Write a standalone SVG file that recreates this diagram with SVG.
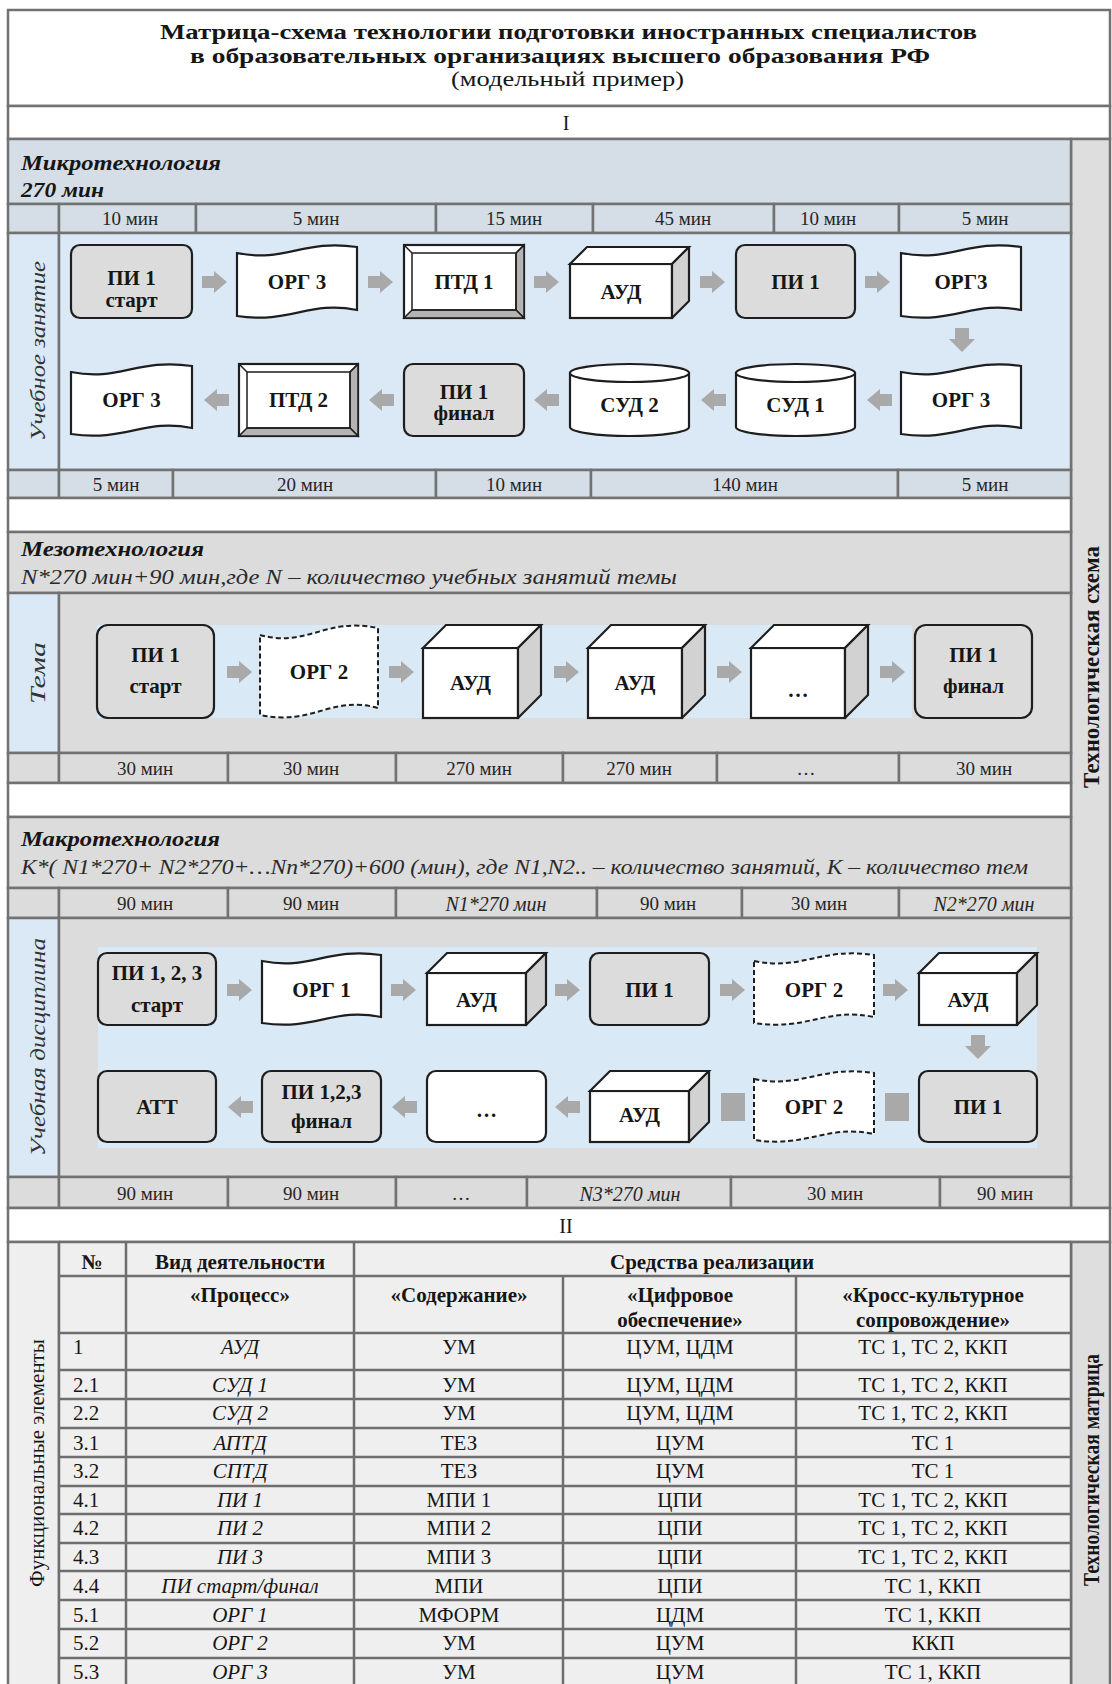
<svg xmlns="http://www.w3.org/2000/svg" xmlns:xlink="http://www.w3.org/1999/xlink" width="1112" height="1684" viewBox="0 0 1112 1684">
<style>
text{font-family:"Liberation Serif","Times New Roman",serif;fill:#161616}
.c{stroke:#727272;stroke-width:2.5}
.w{fill:#ffffff}.mb{fill:#d5dee7}.bl{fill:#dae9f5}.gr{fill:#dcdcdc}.rc{fill:#dedede}.tb{fill:#efefef}
.band{fill:#d9e9f6}
.gn{fill:#dcdcdc;stroke:#1e1e1e;stroke-width:2.2}
.wn{fill:#ffffff;stroke:#1e1e1e;stroke-width:2.2}
.dn{fill:#ffffff;stroke:#1e1e1e;stroke-width:2;stroke-dasharray:5 3}
.side{fill:#d2d2d2;stroke:#1e1e1e;stroke-width:2.2;stroke-linejoin:round}
.bev{fill:#b4b4b4;stroke:#1e1e1e;stroke-width:1.5}
.ln{fill:none;stroke:#1e1e1e;stroke-width:1.5}
.arr{fill:#a9a9a9}
.nt{font-size:21px;font-weight:bold;text-anchor:middle}
.d{font-size:19px;text-anchor:middle;fill:#262626}
.di{font-size:20px;font-style:italic;text-anchor:middle;fill:#262626}
.hd{font-size:20px;font-weight:bold;font-style:italic}
.fm{font-size:20px;font-style:italic;fill:#2a2a2a}
.vl{font-size:22px;font-style:italic;text-anchor:middle;dominant-baseline:central;fill:#333}
.vb{font-size:20px;font-weight:bold;text-anchor:middle;dominant-baseline:central}
.th{font-size:21px;font-weight:bold;text-anchor:middle}
.tc{font-size:21px;text-anchor:middle}
.ti{font-size:21px;font-style:italic;text-anchor:middle}
.tn{font-size:21px}
.grid{fill:none;stroke:#6e6e6e;stroke-width:2.5}
</style>
<defs>
<path id="ar" d="M0,-6 H12 V-11 L25,0 L12,11 V6 H0 Z"/>
<path id="ad" d="M-7,0 H7 V11 H13 L0,24 L-13,11 H-7 Z"/>
</defs>

<g id="frame">
<rect class="c w" x="8" y="10" width="1102" height="96"/>
<rect class="c w" x="8" y="106" width="1102" height="33"/>
<rect class="c rc" x="1071" y="139" width="39" height="1069"/>
<rect class="c mb" x="8" y="139" width="1063" height="65"/>
<rect class="c mb" x="8" y="204" width="51" height="29"/>
<rect class="c mb" x="59" y="204" width="137" height="29"/>
<rect class="c mb" x="196" y="204" width="240" height="29"/>
<rect class="c mb" x="436" y="204" width="157" height="29"/>
<rect class="c mb" x="593" y="204" width="181" height="29"/>
<rect class="c mb" x="774" y="204" width="125" height="29"/>
<rect class="c mb" x="899" y="204" width="172" height="29"/>
<rect class="c bl" x="8" y="233" width="51" height="237"/>
<rect class="c bl" x="59" y="233" width="1012" height="237"/>
<rect class="c mb" x="8" y="470" width="51" height="28"/>
<rect class="c mb" x="59" y="470" width="114" height="28"/>
<rect class="c mb" x="173" y="470" width="263" height="28"/>
<rect class="c mb" x="436" y="470" width="155" height="28"/>
<rect class="c mb" x="591" y="470" width="307" height="28"/>
<rect class="c mb" x="898" y="470" width="173" height="28"/>
<rect class="c w" x="8" y="498" width="1063" height="34"/>
<rect class="c gr" x="8" y="532" width="1063" height="61"/>
<rect class="c bl" x="8" y="593" width="51" height="160"/>
<rect class="c gr" x="59" y="593" width="1012" height="160"/>
<rect class="band" x="97" y="625" width="815" height="93"/>
<rect class="c gr" x="8" y="753" width="51" height="30"/>
<rect class="c gr" x="59" y="753" width="169" height="30"/>
<rect class="c gr" x="228" y="753" width="168" height="30"/>
<rect class="c gr" x="396" y="753" width="167" height="30"/>
<rect class="c gr" x="563" y="753" width="154" height="30"/>
<rect class="c gr" x="717" y="753" width="182" height="30"/>
<rect class="c gr" x="899" y="753" width="172" height="30"/>
<rect class="c w" x="8" y="783" width="1063" height="34"/>
<rect class="c gr" x="8" y="817" width="1063" height="71"/>
<rect class="c gr" x="8" y="888" width="51" height="30"/>
<rect class="c gr" x="59" y="888" width="169" height="30"/>
<rect class="c gr" x="228" y="888" width="168" height="30"/>
<rect class="c gr" x="396" y="888" width="201" height="30"/>
<rect class="c gr" x="597" y="888" width="145" height="30"/>
<rect class="c gr" x="742" y="888" width="157" height="30"/>
<rect class="c gr" x="899" y="888" width="172" height="30"/>
<rect class="c bl" x="8" y="918" width="51" height="259"/>
<rect class="c gr" x="59" y="918" width="1012" height="259"/>
<rect class="band" x="98" y="947" width="939" height="201"/>
<rect class="c gr" x="8" y="1177" width="51" height="31"/>
<rect class="c gr" x="59" y="1177" width="169" height="31"/>
<rect class="c gr" x="228" y="1177" width="168" height="31"/>
<rect class="c gr" x="396" y="1177" width="131" height="31"/>
<rect class="c gr" x="527" y="1177" width="204" height="31"/>
<rect class="c gr" x="731" y="1177" width="209" height="31"/>
<rect class="c gr" x="940" y="1177" width="131" height="31"/>
<rect class="c w" x="8" y="1208" width="1102" height="34"/>
<rect class="c tb" x="8" y="1242" width="51" height="450"/>
<rect class="c rc" x="1071" y="1242" width="39" height="450"/>
<rect class="tb" x="59" y="1242" width="1012" height="450"/>
<path class="grid" d="M59,1242H1071M59,1276H1071M59,1333H1071M59,1370H1071M59,1399H1071M59,1428H1071M59,1457H1071M59,1486H1071M59,1514H1071M59,1543H1071M59,1571H1071M59,1600H1071M59,1629H1071M59,1658H1071M59,1242V1690M126,1242V1690M354,1242V1690M563,1276V1690M796,1276V1690M1071,1242V1690"/>
</g>

<g id="labels">
<text font-size="21" font-weight="bold" x="160" y="39" textLength="817" lengthAdjust="spacingAndGlyphs">Матрица-схема технологии подготовки иностранных специалистов</text>
<text font-size="21" font-weight="bold" x="190" y="63" textLength="740" lengthAdjust="spacingAndGlyphs">в образовательных организациях высшего образования РФ</text>
<text font-size="20" x="451" y="86" textLength="233" lengthAdjust="spacingAndGlyphs">(модельный пример)</text>
<text font-size="20" x="566" y="130" text-anchor="middle">I</text>
<text class="hd" x="21" y="170" textLength="200" lengthAdjust="spacingAndGlyphs">Микротехнология</text>
<text class="hd" x="21" y="197" textLength="83" lengthAdjust="spacingAndGlyphs">270 мин</text>
<text class="hd" x="21" y="556" textLength="183" lengthAdjust="spacingAndGlyphs">Мезотехнология</text>
<text class="fm" x="21" y="584" textLength="656" lengthAdjust="spacingAndGlyphs">N*270 мин+90 мин,где N – количество учебных занятий темы</text>
<text class="hd" x="21" y="846" textLength="199" lengthAdjust="spacingAndGlyphs">Макротехнология</text>
<text class="fm" x="21" y="874" textLength="1007" lengthAdjust="spacingAndGlyphs">K*( N1*270+ N2*270+…Nn*270)+600 (мин), где N1,N2.. – количество занятий, K – количество тем</text>
<text class="vl" transform="translate(37,351) rotate(-90)" textLength="180" lengthAdjust="spacingAndGlyphs">Учебное занятие</text>
<text class="vl" transform="translate(37,673) rotate(-90)" textLength="62" lengthAdjust="spacingAndGlyphs">Тема</text>
<text class="vl" transform="translate(37,1047) rotate(-90)" textLength="218" lengthAdjust="spacingAndGlyphs">Учебная дисциплина</text>
<text class="vb" transform="translate(1091,667) rotate(-90) scale(1,1.2)" textLength="242" lengthAdjust="spacingAndGlyphs">Технологическая схема</text>
<text class="vb" transform="translate(1091,1470) rotate(-90) scale(1,1.2)" textLength="232" lengthAdjust="spacingAndGlyphs">Технологическая матрица</text>
<text font-size="21" text-anchor="middle" dominant-baseline="central" transform="translate(37,1463) rotate(-90)">Функциональные элементы</text>
<text font-size="20" x="566" y="1233" text-anchor="middle">II</text>
<text class="d" x="130" y="225">10 мин</text>
<text class="d" x="316" y="225">5 мин</text>
<text class="d" x="514" y="225">15 мин</text>
<text class="d" x="683" y="225">45 мин</text>
<text class="d" x="828" y="225">10 мин</text>
<text class="d" x="985" y="225">5 мин</text>
<text class="d" x="116" y="491">5 мин</text>
<text class="d" x="305" y="491">20 мин</text>
<text class="d" x="514" y="491">10 мин</text>
<text class="d" x="745" y="491">140 мин</text>
<text class="d" x="985" y="491">5 мин</text>
<text class="d" x="145" y="775">30 мин</text>
<text class="d" x="311" y="775">30 мин</text>
<text class="d" x="479" y="775">270 мин</text>
<text class="d" x="639" y="775">270 мин</text>
<text class="d" x="806" y="775" fill="#777">…</text>
<text class="d" x="984" y="775">30 мин</text>
<text class="d" x="145" y="910">90 мин</text>
<text class="d" x="311" y="910">90 мин</text>
<text class="di" x="496" y="911">N1*270 мин</text>
<text class="d" x="668" y="910">90 мин</text>
<text class="d" x="819" y="910">30 мин</text>
<text class="di" x="984" y="911">N2*270 мин</text>
<text class="d" x="145" y="1200">90 мин</text>
<text class="d" x="311" y="1200">90 мин</text>
<text class="d" x="461" y="1200" fill="#777">…</text>
<text class="di" x="630" y="1201">N3*270 мин</text>
<text class="d" x="835" y="1200">30 мин</text>
<text class="d" x="1005" y="1200">90 мин</text>
</g>

<g id="table">
<text class="th" x="92" y="1269">№</text>
<text class="th" x="240" y="1269">Вид деятельности</text>
<text class="th" x="712" y="1269">Средства реализации</text>
<text class="th" x="240" y="1302">«Процесс»</text>
<text class="th" x="459" y="1302">«Содержание»</text>
<text class="th" x="680" y="1302">«Цифровое</text>
<text class="th" x="680" y="1327">обеспечение»</text>
<text class="th" x="933" y="1302">«Кросс-культурное</text>
<text class="th" x="933" y="1327">сопровождение»</text>
<text class="tn" x="73" y="1354">1</text><text class="ti" x="240" y="1354">АУД</text><text class="tc" x="459" y="1354">УМ</text><text class="tc" x="680" y="1354">ЦУМ, ЦДМ</text><text class="tc" x="933" y="1354">ТС 1, ТС 2, ККП</text>
<text class="tn" x="73" y="1392">2.1</text><text class="ti" x="240" y="1392">СУД 1</text><text class="tc" x="459" y="1392">УМ</text><text class="tc" x="680" y="1392">ЦУМ, ЦДМ</text><text class="tc" x="933" y="1392">ТС 1, ТС 2, ККП</text>
<text class="tn" x="73" y="1420">2.2</text><text class="ti" x="240" y="1420">СУД 2</text><text class="tc" x="459" y="1420">УМ</text><text class="tc" x="680" y="1420">ЦУМ, ЦДМ</text><text class="tc" x="933" y="1420">ТС 1, ТС 2, ККП</text>
<text class="tn" x="73" y="1450">3.1</text><text class="ti" x="240" y="1450">АПТД</text><text class="tc" x="459" y="1450">ТЕЗ</text><text class="tc" x="680" y="1450">ЦУМ</text><text class="tc" x="933" y="1450">ТС 1</text>
<text class="tn" x="73" y="1478">3.2</text><text class="ti" x="240" y="1478">СПТД</text><text class="tc" x="459" y="1478">ТЕЗ</text><text class="tc" x="680" y="1478">ЦУМ</text><text class="tc" x="933" y="1478">ТС 1</text>
<text class="tn" x="73" y="1507">4.1</text><text class="ti" x="240" y="1507">ПИ 1</text><text class="tc" x="459" y="1507">МПИ 1</text><text class="tc" x="680" y="1507">ЦПИ</text><text class="tc" x="933" y="1507">ТС 1, ТС 2, ККП</text>
<text class="tn" x="73" y="1535">4.2</text><text class="ti" x="240" y="1535">ПИ 2</text><text class="tc" x="459" y="1535">МПИ 2</text><text class="tc" x="680" y="1535">ЦПИ</text><text class="tc" x="933" y="1535">ТС 1, ТС 2, ККП</text>
<text class="tn" x="73" y="1564">4.3</text><text class="ti" x="240" y="1564">ПИ 3</text><text class="tc" x="459" y="1564">МПИ 3</text><text class="tc" x="680" y="1564">ЦПИ</text><text class="tc" x="933" y="1564">ТС 1, ТС 2, ККП</text>
<text class="tn" x="73" y="1593">4.4</text><text class="ti" x="240" y="1593">ПИ старт/финал</text><text class="tc" x="459" y="1593">МПИ</text><text class="tc" x="680" y="1593">ЦПИ</text><text class="tc" x="933" y="1593">ТС 1, ККП</text>
<text class="tn" x="73" y="1622">5.1</text><text class="ti" x="240" y="1622">ОРГ 1</text><text class="tc" x="459" y="1622">МФОРМ</text><text class="tc" x="680" y="1622">ЦДМ</text><text class="tc" x="933" y="1622">ТС 1, ККП</text>
<text class="tn" x="73" y="1650">5.2</text><text class="ti" x="240" y="1650">ОРГ 2</text><text class="tc" x="459" y="1650">УМ</text><text class="tc" x="680" y="1650">ЦУМ</text><text class="tc" x="933" y="1650">ККП</text>
<text class="tn" x="73" y="1679">5.3</text><text class="ti" x="240" y="1679">ОРГ 3</text><text class="tc" x="459" y="1679">УМ</text><text class="tc" x="680" y="1679">ЦУМ</text><text class="tc" x="933" y="1679">ТС 1, ККП</text>
</g>

<g id="connectors" class="arr">
<use href="#ar" x="202" y="282"/><use href="#ar" x="368" y="282"/><use href="#ar" x="534" y="282"/><use href="#ar" x="700" y="282"/><use href="#ar" x="865" y="282"/>
<use href="#ad" x="962" y="328"/>
<use href="#ar" transform="translate(229,400) scale(-1,1)"/><use href="#ar" transform="translate(394,400) scale(-1,1)"/><use href="#ar" transform="translate(559,400) scale(-1,1)"/><use href="#ar" transform="translate(726,400) scale(-1,1)"/><use href="#ar" transform="translate(892,400) scale(-1,1)"/>
<use href="#ar" x="227" y="672"/><use href="#ar" x="389" y="672"/><use href="#ar" x="554" y="672"/><use href="#ar" x="717" y="672"/><use href="#ar" x="880" y="672"/>
<use href="#ar" x="227" y="990"/><use href="#ar" x="391" y="990"/><use href="#ar" x="555" y="990"/><use href="#ar" x="720" y="990"/><use href="#ar" x="883" y="990"/>
<use href="#ad" x="978" y="1035"/>
<use href="#ar" transform="translate(253,1107) scale(-1,1)"/><use href="#ar" transform="translate(417,1107) scale(-1,1)"/><use href="#ar" transform="translate(580,1107) scale(-1,1)"/>
<rect x="721" y="1093" width="24" height="28"/><rect x="885" y="1093" width="24" height="28"/>
</g>

<g id="m1"><rect class="gn" x="71" y="245" width="121" height="73" rx="9"/><text class="nt" x="131.5" y="285">ПИ 1</text><text class="nt" x="131.5" y="307">старт</text></g>
<g id="m2"><path class="wn" d="M237,253 C285,263 303,239 357,247 L357,310 C309,300 291,324 237,316 Z"/><text class="nt" x="297" y="289">ОРГ 3</text></g>
<g id="m3"><rect class="wn" x="404" y="245" width="120" height="73"/><polygon class="bev" points="524,245 524,318 516,310 516,253"/><polygon class="bev" points="404,318 524,318 516,310 412,310"/><rect class="ln" x="412" y="253" width="104" height="57"/><path class="ln" d="M404,245L412,253M524,245L516,253"/><text class="nt" x="464" y="289">ПТД 1</text></g>
<g id="m4"><rect class="wn" x="570" y="264" width="102" height="54"/><polygon class="wn" points="570,264 587,247 689,247 672,264"/><polygon class="side" points="672,264 689,247 689,301 672,318"/><text class="nt" x="621" y="299">АУД</text></g>
<g id="m5"><rect class="gn" x="736" y="245" width="119" height="73" rx="9"/><text class="nt" x="795.5" y="289">ПИ 1</text></g>
<g id="m6"><path class="wn" d="M901,253 C949,263 967,239 1021,247 L1021,310 C973,300 955,324 901,316 Z"/><text class="nt" x="961" y="289">ОРГ3</text></g>
<g id="m7"><path class="wn" d="M901,372 C949,382 967,358 1021,366 L1021,428 C973,418 955,442 901,434 Z"/><text class="nt" x="961" y="407">ОРГ 3</text></g>
<g id="m8"><path class="wn" d="M736,373 L736,427 A59.5,9 0 0 0 855,427 L855,373 Z"/><ellipse class="wn" cx="795.5" cy="373" rx="59.5" ry="9"/><text class="nt" x="795.5" y="412">СУД 1</text></g>
<g id="m9"><path class="wn" d="M570,373 L570,427 A59.5,9 0 0 0 689,427 L689,373 Z"/><ellipse class="wn" cx="629.5" cy="373" rx="59.5" ry="9"/><text class="nt" x="629.5" y="412">СУД 2</text></g>
<g id="m10"><rect class="gn" x="404" y="364" width="120" height="72" rx="9"/><text class="nt" x="464" y="399">ПИ 1</text><text class="nt" x="464" y="420">финал</text></g>
<g id="m11"><rect class="wn" x="239" y="364" width="119" height="72"/><polygon class="bev" points="358,364 358,436 350,428 350,372"/><polygon class="bev" points="239,436 358,436 350,428 247,428"/><rect class="ln" x="247" y="372" width="103" height="56"/><path class="ln" d="M239,364L247,372M358,364L350,372"/><text class="nt" x="298.5" y="407">ПТД 2</text></g>
<g id="m12"><path class="wn" d="M71,372 C119,382 137,358 192,366 L192,428 C144,418 126,442 71,434 Z"/><text class="nt" x="131.5" y="407">ОРГ 3</text></g>

<g id="t1"><rect class="gn" x="97" y="625" width="117" height="93" rx="11"/><text class="nt" x="155.5" y="662">ПИ 1</text><text class="nt" x="155.5" y="693">старт</text></g>
<g id="t2"><path class="dn" d="M260,635 C307,648 325,617 378,628 L378,708 C331,695 313,726 260,715 Z"/><text class="nt" x="319" y="679">ОРГ 2</text></g>
<g id="t3"><rect class="wn" x="423" y="648" width="95" height="70"/><polygon class="wn" points="423,648 446,625 541,625 518,648"/><polygon class="side" points="518,648 541,625 541,695 518,718"/><text class="nt" x="470.5" y="690">АУД</text></g>
<g id="t4"><rect class="wn" x="588" y="648" width="94" height="70"/><polygon class="wn" points="588,648 611,625 705,625 682,648"/><polygon class="side" points="682,648 705,625 705,695 682,718"/><text class="nt" x="635" y="690">АУД</text></g>
<g id="t5"><rect class="wn" x="751" y="648" width="94" height="70"/><polygon class="wn" points="751,648 774,625 868,625 845,648"/><polygon class="side" points="845,648 868,625 868,695 845,718"/><text class="nt" x="798" y="697">…</text></g>
<g id="t6"><rect class="gn" x="915" y="625" width="117" height="93" rx="11"/><text class="nt" x="973.5" y="662">ПИ 1</text><text class="nt" x="973.5" y="693">финал</text></g>

<g id="d1"><rect class="gn" x="98" y="953" width="118" height="72" rx="9"/><text class="nt" x="157" y="980">ПИ 1, 2, 3</text><text class="nt" x="157" y="1012">старт</text></g>
<g id="d2"><path class="wn" d="M262,961 C310,971 327,947 381,955 L381,1017 C333,1007 316,1031 262,1023 Z"/><text class="nt" x="321.5" y="997">ОРГ 1</text></g>
<g id="d3"><rect class="wn" x="427" y="973" width="99" height="52"/><polygon class="wn" points="427,973 447,953 546,953 526,973"/><polygon class="side" points="526,973 546,953 546,1005 526,1025"/><text class="nt" x="476.5" y="1007">АУД</text></g>
<g id="d4"><rect class="gn" x="590" y="953" width="119" height="72" rx="9"/><text class="nt" x="649.5" y="997">ПИ 1</text></g>
<g id="d5"><path class="dn" d="M754,961 C802,971 820,947 874,955 L874,1017 C826,1007 808,1031 754,1023 Z"/><text class="nt" x="814" y="997">ОРГ 2</text></g>
<g id="d6"><rect class="wn" x="919" y="973" width="98" height="52"/><polygon class="wn" points="919,973 939,953 1037,953 1017,973"/><polygon class="side" points="1017,973 1037,953 1037,1005 1017,1025"/><text class="nt" x="968" y="1007">АУД</text></g>
<g id="d7"><rect class="gn" x="919" y="1071" width="118" height="71" rx="9"/><text class="nt" x="978" y="1114">ПИ 1</text></g>
<g id="d8"><path class="dn" d="M754,1079 C802,1089 820,1065 874,1073 L874,1134 C826,1124 808,1148 754,1140 Z"/><text class="nt" x="814" y="1114">ОРГ 2</text></g>
<g id="d9"><rect class="wn" x="590" y="1091" width="99" height="51"/><polygon class="wn" points="590,1091 610,1071 709,1071 689,1091"/><polygon class="side" points="689,1091 709,1071 709,1122 689,1142"/><text class="nt" x="639.5" y="1122">АУД</text></g>
<g id="d10"><rect class="wn" x="427" y="1071" width="119" height="71" rx="9"/><text class="nt" x="486.5" y="1117">…</text></g>
<g id="d11"><rect class="gn" x="262" y="1071" width="119" height="71" rx="9"/><text class="nt" x="321.5" y="1099">ПИ 1,2,3</text><text class="nt" x="321.5" y="1128">финал</text></g>
<g id="d12"><rect class="gn" x="98" y="1071" width="118" height="71" rx="9"/><text class="nt" x="157" y="1114">АТТ</text></g>
</svg>
